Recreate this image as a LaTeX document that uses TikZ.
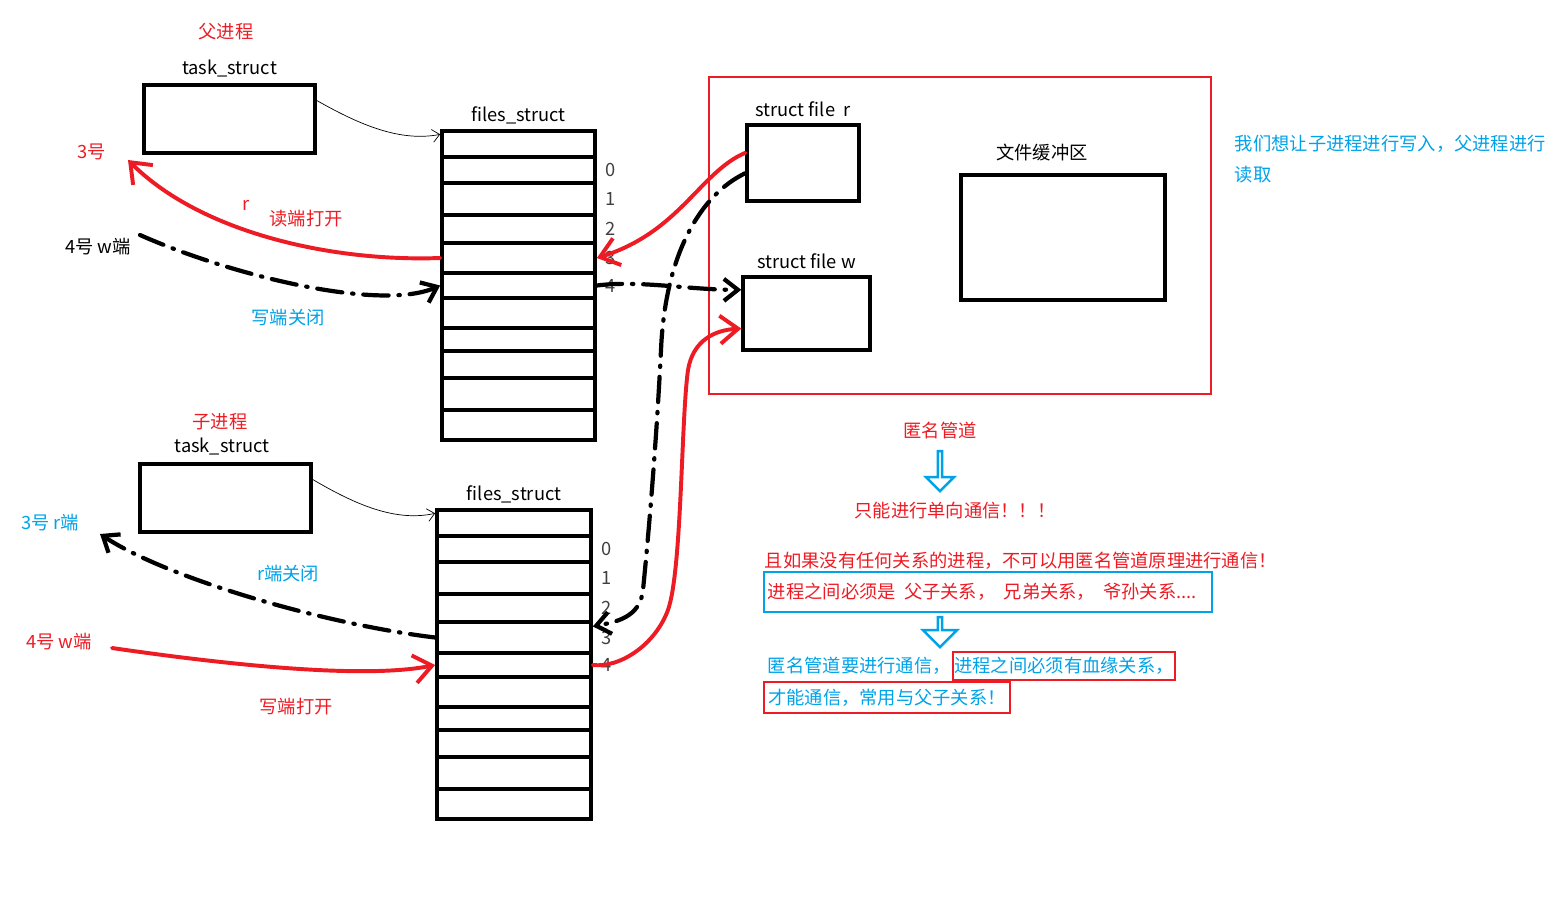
\documentclass[tikz,border=0pt]{standalone}
\usepackage{fontspec}
\setmainfont{Noto Sans CJK SC}
\usepackage{xcolor}
\usepackage{tikz}
\usetikzlibrary{arrows.meta, positioning, shapes.arrows}
\definecolor{pred}{RGB}{237,28,36}
\definecolor{pblue}{RGB}{0,162,232}

\begin{document}
\begin{tikzpicture}[
        x=0.025cm, y=-0.025cm,
        font=\fontsize{13pt}{16pt}\selectfont,
        box/.style={rectangle, draw, line width=2.4pt, inner sep=0pt},
        slot/.style={rectangle, draw, line width=2.6pt, inner sep=0pt},
        fdnum/.style={text=black!75, inner sep=2pt},
        frame/.style={rectangle, draw=#1, line width=1.8pt},
        redline/.style={draw=pred, line width=2.8pt, line cap=round, line join=round, -{Straight Barb[length=4.5mm, width=7mm]}},
        blackdash/.style={draw, line width=3pt, line cap=round, dash pattern=on 18pt off 7pt on 1pt off 7pt, -{Straight Barb[length=3.5mm, width=5.5mm]}},
        thinline/.style={draw, line width=0.5pt, -{Straight Barb[length=1.8mm, width=3.2mm]}},
        hollow/.style={shape=single arrow, draw=pblue, line width=1.8pt, shape border rotate=270, minimum width=0.7cm, minimum height=1cm, single arrow head extend=0.17cm, inner sep=0pt}
    ]
    \useasboundingbox (0,0) rectangle (1564,909);

    % parent process
    \node[box, minimum width=4.275cm, minimum height=1.7cm] (ptask) at (229.5,119) {};
    \node[above=1pt of ptask] (ptname) {task\_struct};
    \node[text=pred] (ptitle) at (226,32) {父进程};
    \foreach \n/\ya/\yb in {1/131/157, 2/157/183, 3/183/215, 4/215/243, 5/243/273, 6/273/298, 7/298/328, 8/328/351, 9/351/378, 10/378/410, 11/410/440}
        \node[slot, minimum width=3.825cm, minimum height={(\yb-\ya)*0.025cm}] (pa\n) at (518.5,{(\ya+\yb)/2}) {};
    \node[above=0pt of pa1] (pfiles) {files\_struct};
    \foreach \i/\r in {0/2,1/3,2/4,3/5,4/6}
        \node[fdnum, right=4pt of pa\r] (pf\i) {\i};

    % child process
    \node[box, minimum width=4.275cm, minimum height=1.7cm] (ctask) at (225.5,498) {};
    \node (ctname) at (222,446) {task\_struct};
    \node[text=pred] (ctitle) at (220,422) {子进程};
    \foreach \n/\ya/\yb in {1/510/536, 2/536/562, 3/562/594, 4/594/622, 5/622/653, 6/653/677, 7/677/707, 8/707/730, 9/730/757, 10/757/789, 11/789/819}
        \node[slot, minimum width=3.85cm, minimum height={(\yb-\ya)*0.025cm}] (pb\n) at (514,{(\ya+\yb)/2}) {};
    \node[above=0pt of pb1] (cfiles) {files\_struct};
    \foreach \i/\r in {0/2,1/3,2/4,3/5,4/6}
        \node[fdnum, right=4pt of pb\r] (cf\i) {\i};

    % kernel side
    \node[frame=pred, line width=1.5pt, minimum width=12.55cm, minimum height=7.925cm, inner sep=0pt] (kernel) at (960,235.5) {};
    \node[box, minimum width=2.8cm, minimum height=1.9cm] (rfile) at (803,163) {};
    \node[above=1pt of rfile] (rname) {struct file~~r};
    \node[box, minimum width=3.175cm, minimum height=1.825cm] (wfile) at (806.5,313.5) {};
    \node[above=1pt of wfile] (wname) {struct file w};
    \node[box, minimum width=5.1cm, minimum height=3.125cm] (buf) at (1063,237.5) {};
    \node (bufname) at (1042,153) {文件缓冲区};

    % left labels
    \node[text=pred] (p3) at (92,152) {3号};
    \node (p4) at (98,247) {4号 w端};
    \node[text=pred] (pr) at (246,205) {r};
    \node[text=pred] (popen) at (306,219) {读端打开};
    \node[text=pblue] (pclose) at (288,318) {写端关闭};
    \node[text=pblue] (c3) at (50,523) {3号 r端};
    \node[text=pblue] (cclose) at (288,574) {r端关闭};
    \node[text=pred] (c4) at (59,642) {4号 w端};
    \node[text=pred] (copen) at (296,707) {写端打开};
    \coordinate (p3tip) at (128,160);
    \coordinate (p4end) at (140,235);
    \coordinate (c3tip) at (100,534);
    \coordinate (c4end) at (112,648);

    % notes
    \node[text=pblue, align=left, anchor=west, font=\fontsize{13pt}{22pt}\selectfont] (wish) at (1230,159.5) {我们想让子进程进行写入，父进程进行\\读取};
    \node[text=pred] (anon) at (940,431) {匿名管道};
    \node[hollow] (down1) at (940,470) {};
    \node[text=pred] (oneway) at (955,511) {只能进行单向通信！！！};
    \node[text=pred, anchor=west] (norel) at (760,561) {且如果没有任何关系的进程，不可以用匿名管道原理进行通信！};
    \node[frame=pblue, text=pred, minimum width=11.2cm, minimum height=1cm, text width=11cm, align=left, inner xsep=2pt] (kin) at (988,592) {进程之间必须是\hspace{0.45em}父子关系，\hspace{0.45em}兄弟关系，\hspace{0.45em}爷孙关系....};
    \node[hollow, minimum height=0.75cm, minimum width=0.85cm, single arrow head extend=0.22cm] (down2) at (940,631) {};
    \node[text=pblue, anchor=west] (need) at (763,666) {匿名管道要进行通信，};
    \node[frame=pred, text=pblue, minimum width=5.5cm, minimum height=0.7cm, inner sep=1pt] (blood) at (1064,666) {进程之间必须有血缘关系，};
    \node[frame=pred, text=pblue, minimum width=6.15cm, minimum height=0.775cm, inner sep=1pt] (usual) at (887,697.5) {才能通信，常用与父子关系！};

    % pointers
    \path[thinline] (ptask.12) .. controls (360,125) and (400,142) .. (pa1.173);
    \path[thinline] (ctask.12) .. controls (356,505) and (396,522) .. (pb1.173);
    \path[redline] (pa5.west) .. controls (330,262) and (200,232) .. (p3tip);
    \path[blackdash] (p4end) .. controls (230,275) and (380,312) .. (pa6.west);
    \path[blackdash] (pb5.west) .. controls (330,625) and (170,580) .. (c3tip);
    \path[redline] (c4end) .. controls (250,668) and (370,678) .. (pb6.west);
    \path[redline] (rfile.170) .. controls (700,172) and (680,232) .. (pa5.east);
    \path[blackdash] (rfile.190) .. controls (700,195) and (665,255) .. (661,350)
        .. controls (656,450) and (648,540) .. (643,590)
        .. controls (640,618) and (615,622) .. (pb5.8);
    \path[blackdash] (pa6.east) .. controls (640,280) and (690,290) .. (wfile.160);
    \path[redline] (pb6.east) .. controls (620,668) and (655,645) .. (668,610)
        .. controls (682,570) and (681,420) .. (688,370)
        .. controls (693,340) and (715,330) .. (wfile.193);
\end{tikzpicture}
\end{document}
